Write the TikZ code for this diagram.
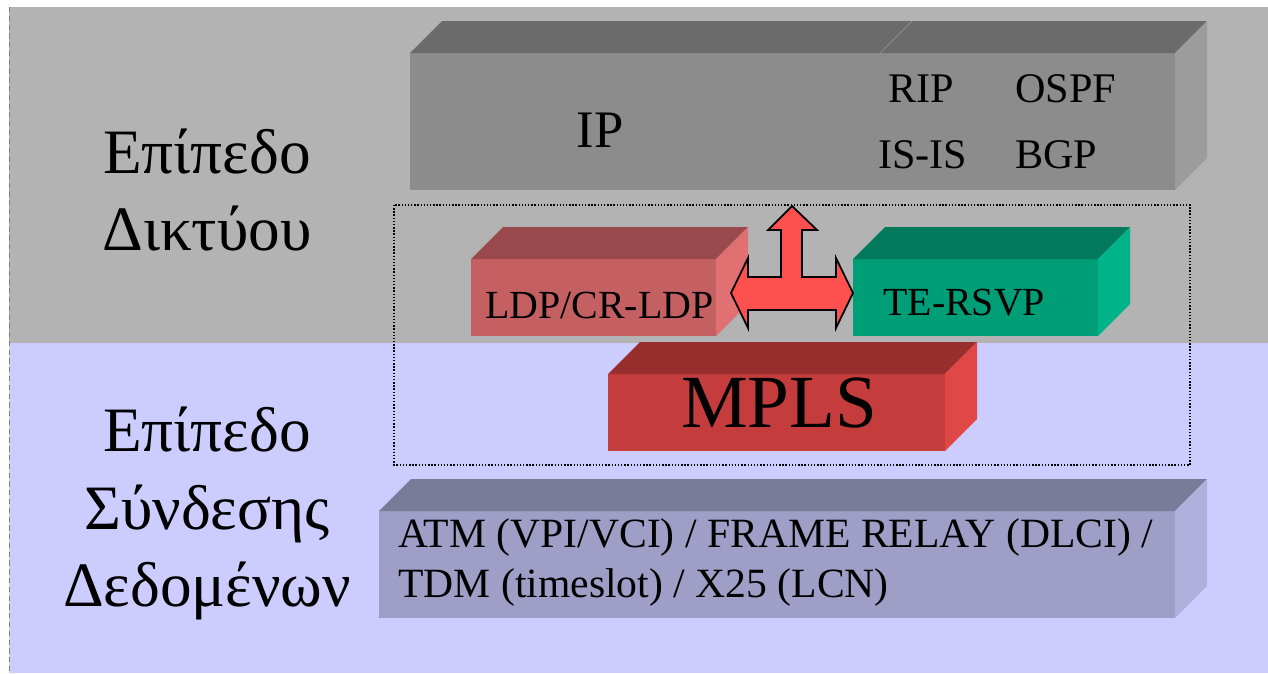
\documentclass[tikz,border=0pt]{standalone}
\usepackage{fontspec}
\setmainfont{Liberation Serif}

\definecolor{netbg}{HTML}{B3B3B3}
\definecolor{linkbg}{HTML}{CCCCFF}
\definecolor{ipfront}{HTML}{8C8C8C}
\definecolor{iptop}{HTML}{6B6B6B}
\definecolor{ipside}{HTML}{9C9C9C}
\definecolor{ldpfront}{HTML}{C46062}
\definecolor{ldptop}{HTML}{9A4A4C}
\definecolor{ldpside}{HTML}{E07072}
\definecolor{tefront}{HTML}{009E76}
\definecolor{tetop}{HTML}{007A5A}
\definecolor{teside}{HTML}{00B388}
\definecolor{mplsfront}{HTML}{C43C3C}
\definecolor{mplstop}{HTML}{982E2E}
\definecolor{mplsside}{HTML}{E04848}
\definecolor{ltwofront}{HTML}{9E9EC6}
\definecolor{ltwotop}{HTML}{7A7A99}
\definecolor{ltwoside}{HTML}{B0B0DC}
\definecolor{arrowred}{HTML}{FF5050}

\def\dz{32}
% slab: name, front face x0,y0,x1,y1, colour prefix
\newcommand{\slab}[6]{%
  \coordinate (#1-nw) at (#2,#3);
  \coordinate (#1-ne) at (#4,#3);
  \coordinate (#1-se) at (#4,#5);
  \fill[#6front] (#1-nw) rectangle (#1-se);
  \fill[#6top] (#1-nw) -- ++(\dz,-\dz) -- (#4+\dz,#3-\dz) -- (#1-ne) -- cycle;
  \fill[#6side] (#1-ne) -- ++(\dz,-\dz) -- (#4+\dz,#5-\dz) -- (#1-se) -- cycle;
}

\tikzset{
  layer/.style={anchor=base, font=\fontsize{36}{40}\selectfont},
  proto/.style={anchor=base west, inner sep=0pt, font=\fontsize{24}{28}\selectfont},
  ctrl/.style={anchor=base west, inner sep=0pt, font=\fontsize{22.7}{26}\selectfont},
  link/.style={anchor=base west, inner sep=0pt, font=\fontsize{23.7}{28}\selectfont},
}

\begin{document}
\begin{tikzpicture}[x=0.02cm, y=-0.02cm]
  \useasboundingbox (0,0) rectangle (1268,673);
  \fill[white] (0,0) rectangle (1268,673);
  % the two planes
  \fill[netbg] (9,7) rectangle (1268,343);
  \fill[linkbg] (9,343) rectangle (1268,673);
  \draw[gray, densely dashed, line width=0.4pt] (9,7) -- (9,673);

  \node[layer] (net1) at (207,173) {Επίπεδο};
  \node[layer] (net2) at (207,250) {Δικτύου};
  \node[layer] (dl1) at (207,451) {Επίπεδο};
  \node[layer] (dl2) at (207,529) {Σύνδεσης};
  \node[layer] (dl3) at (207,606) {Δεδομένων};

  % IP and routing
  \slab{ip}{410}{53}{1175}{190}{ip}
  \draw[iptop!70!white, line width=0.3pt] (880,53) -- ++(\dz,-\dz);
  \node[anchor=base, font=\fontsize{30}{36}\selectfont] (iplabel) at (600,147) {IP};
  \node[proto] (rip) at (888,102) {RIP};
  \node[proto] (ospf) at (1015,102) {OSPF};
  \node[proto] (isis) at (878,168) {IS-IS};
  \node[proto] (bgp) at (1015,168) {BGP};

  \draw[densely dotted, line width=0.8pt] (394,205) rectangle (1190,465);

  % signalling
  \slab{ldp}{471}{259}{716}{336}{ldp}
  \node[ctrl] (ldplabel) at (485,318) {LDP/CR-LDP};
  \slab{te}{853}{259}{1098}{336}{te}
  \node[ctrl] (telabel) at (883,315) {TE-RSVP};

  \fill[arrowred, draw=black, line width=1pt, line join=miter]
    (792,206) -- (817,230) -- (802,230) -- (802,277) -- (836,277) -- (836,258)
    -- (853,293) -- (836,328) -- (836,310) -- (748,310) -- (748,328)
    -- (731,293) -- (748,258) -- (748,277) -- (781,277) -- (781,230)
    -- (768,230) -- cycle;

  \slab{mpls}{608}{374}{945}{451}{mpls}
  \node[anchor=base, font=\fontsize{42.7}{48}\selectfont] (mplslabel) at (779,427) {MPLS};

  % layer 2
  \slab{ltwo}{379}{511}{1175}{618}{ltwo}
  \node[link] (lk1) at (398,547) {ATM (VPI/VCI) / FRAME RELAY (DLCI) /};
  \node[link] (lk2) at (398,597) {TDM (timeslot) / X25 (LCN)};
\end{tikzpicture}
\end{document}
